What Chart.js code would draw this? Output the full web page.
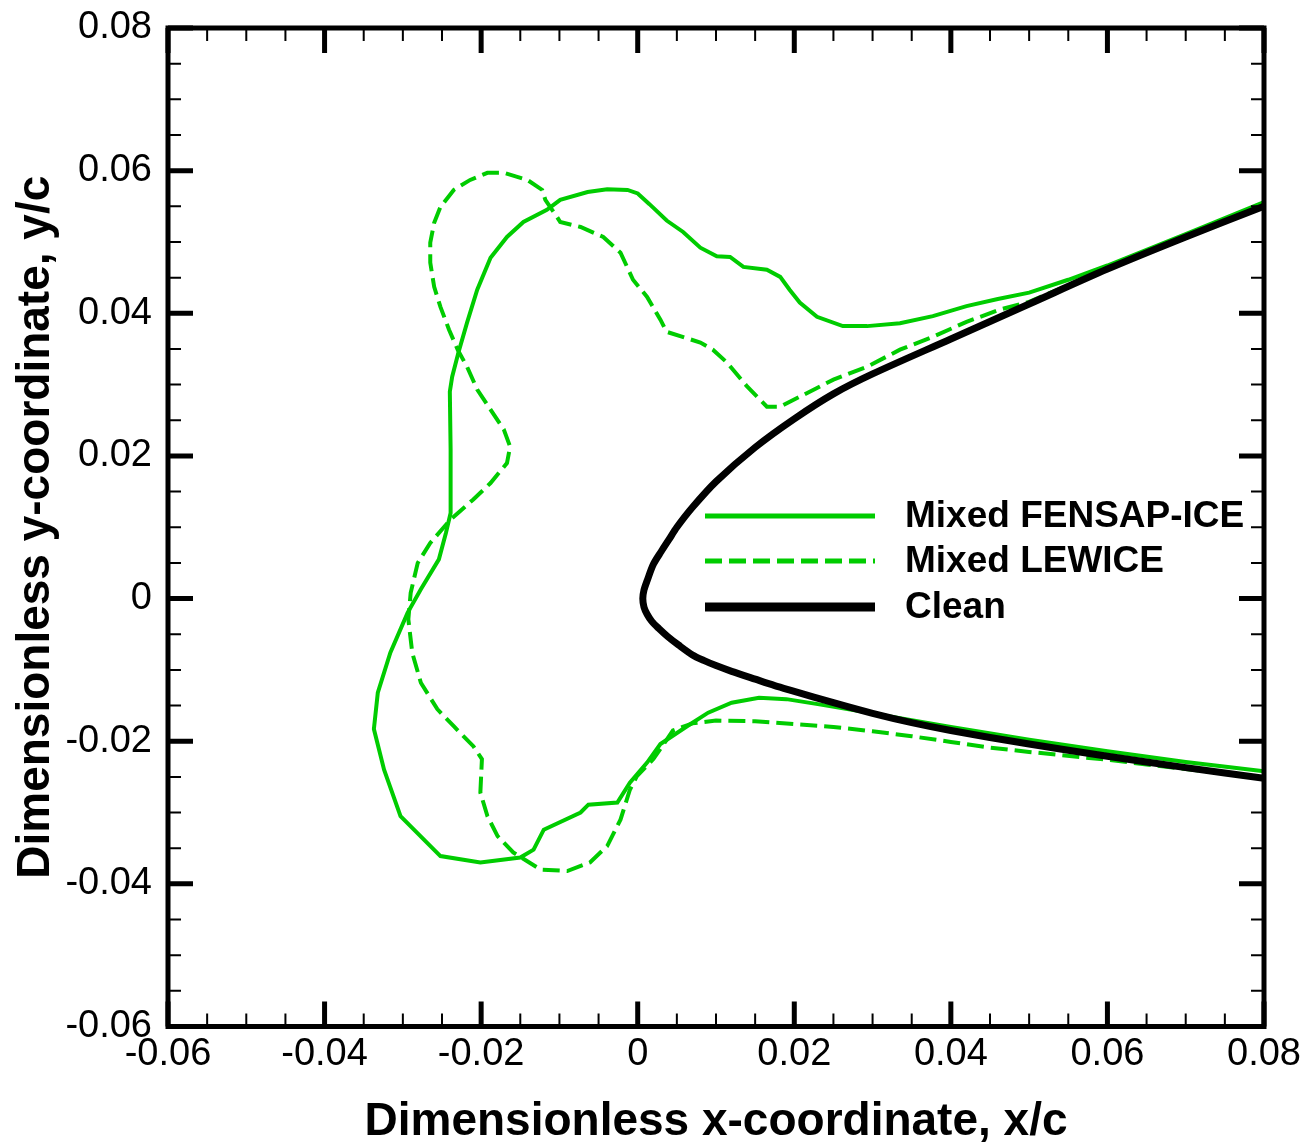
<!DOCTYPE html>
<html>
<head>
<meta charset="utf-8">
<script src="https://cdn.jsdelivr.net/npm/chart.js@4.4.1/dist/chart.umd.min.js"></script>
<style>
  html, body { margin: 0; padding: 0; background: #fff; }
  canvas { display: block; }
</style>
</head>
<body>
<canvas id="myChart" width="1308" height="1145"></canvas>
<script>
// ice shapes on the leading edge, x/c and y/c

var fensapX = [0.080, 0.070, 0.060, 0.055, 0.050, 0.046, 0.042, 0.0377, 0.0335, 0.0293,
  0.0262, 0.0229, 0.0207, 0.0194, 0.0182, 0.0165, 0.0135, 0.0118, 0.0101, 0.0080,
  0.0058, 0.0037, 0.0015, 0.0000, -0.0013, -0.0039, -0.0064, -0.0099, -0.0116, -0.0146,
  -0.0167, -0.0188, -0.0205, -0.0218, -0.0229, -0.0237, -0.0240, -0.0239, -0.0239, -0.0245,
  -0.0254, -0.0277, -0.0294, -0.0316, -0.0332, -0.0337, -0.0324, -0.0303, -0.0252, -0.0201,
  -0.0150, -0.0133, -0.0120, -0.0073, -0.0063, -0.0026, -0.0010, 0.0012, 0.0029, 0.0063,
  0.0090, 0.0120, 0.0155, 0.0190, 0.0230, 0.0300, 0.0400, 0.0500, 0.0600, 0.0700, 0.0800];
var fensapY = [0.0556, 0.0511, 0.0467, 0.0447, 0.0429, 0.0420, 0.0410, 0.0396, 0.0386, 0.0382,
  0.0382, 0.0395, 0.0415, 0.0433, 0.0451, 0.0461, 0.0465, 0.0479, 0.0480, 0.0492,
  0.0514, 0.0530, 0.0553, 0.0568, 0.0573, 0.0574, 0.0570, 0.0559, 0.0545, 0.0528,
  0.0507, 0.0478, 0.0433, 0.0387, 0.0345, 0.0311, 0.0290, 0.0209, 0.0120, 0.0092,
  0.0055, 0.0013, -0.0020, -0.0076, -0.0132, -0.0183, -0.0240, -0.0305, -0.0361, -0.0370,
  -0.0363, -0.0352, -0.0324, -0.0300, -0.0289, -0.0286, -0.0258, -0.0230, -0.0204, -0.0179,
  -0.0160, -0.0146, -0.0139, -0.0141, -0.0148, -0.0161, -0.0180, -0.0198, -0.0214, -0.0229, -0.0242];

var lewiceX = [0.080, 0.070, 0.060, 0.050, 0.0462, 0.042, 0.0377, 0.0335, 0.0293, 0.025,
  0.0207, 0.0182, 0.0165, 0.0140, 0.0114, 0.0096, 0.0080, 0.0037, 0.0029, 0.0012,
  -0.0006, -0.0022, -0.0044, -0.0073, -0.0099, -0.0103, -0.0118, -0.0122, -0.0141, -0.0171,
  -0.0192, -0.0214, -0.0235, -0.0252, -0.0260, -0.0265, -0.0265, -0.0260, -0.0252, -0.0241,
  -0.0230, -0.0218, -0.0205, -0.0188, -0.0171, -0.0163, -0.0167, -0.0188, -0.0210, -0.0239,
  -0.0265, -0.0281, -0.0290, -0.0293, -0.0288, -0.0277, -0.0256, -0.0235, -0.0210, -0.0199,
  -0.0201, -0.0192, -0.0179, -0.0159, -0.0124, -0.0090, -0.0061, -0.0039, -0.0022, -0.0010,
  -0.0001, 0.0020, 0.0045, 0.0070, 0.0100, 0.0150, 0.0200, 0.0250, 0.0300, 0.0350,
  0.0400, 0.0450, 0.0500, 0.0600, 0.0700, 0.0800];
var lewiceY = [0.0551, 0.0508, 0.0463, 0.0416, 0.0405, 0.0388, 0.0367, 0.0349, 0.0325, 0.0307,
  0.0283, 0.0269, 0.0269, 0.0297, 0.0331, 0.0349, 0.0359, 0.0374, 0.0391, 0.0423,
  0.0447, 0.0485, 0.0507, 0.0521, 0.0528, 0.0535, 0.0559, 0.0573, 0.0587, 0.0597,
  0.0597, 0.0587, 0.0573, 0.0549, 0.0527, 0.0499, 0.0471, 0.0437, 0.0409, 0.0377,
  0.0349, 0.0325, 0.0293, 0.0265, 0.0237, 0.0213, 0.0190, 0.0162, 0.0139, 0.0111,
  0.0078, 0.0050, 0.0008, -0.0029, -0.0076, -0.0118, -0.0155, -0.0179, -0.0207, -0.0225,
  -0.0272, -0.0305, -0.0333, -0.0356, -0.0380, -0.0382, -0.0370, -0.0347, -0.0310, -0.0268,
  -0.0249, -0.0225, -0.0185, -0.0175, -0.0171, -0.0172, -0.0176, -0.0180, -0.0186, -0.0193,
  -0.0201, -0.0209, -0.0215, -0.0226, -0.0239, -0.0251];

var cleanX = [0.080, 0.070, 0.060, 0.050, 0.040, 0.030, 0.025, 0.020, 0.015, 0.010,
  0.007, 0.005, 0.004, 0.003, 0.002, 0.0012, 0.0008, 0.00065, 0.0008, 0.0012,
  0.0018, 0.0027, 0.0038, 0.0052, 0.0070, 0.0085, 0.0100, 0.0120, 0.0150, 0.0175,
  0.0200, 0.0250, 0.0300, 0.0350, 0.0400, 0.0500, 0.0600, 0.0700, 0.0800];
var cleanY = [0.0550, 0.0507, 0.0462, 0.0413, 0.0364, 0.0315, 0.0287, 0.0252, 0.0212, 0.0164,
  0.0128, 0.0100, 0.0083, 0.0066, 0.0048, 0.0025, 0.0012, 0.0000, -0.0012, -0.0022,
  -0.0032, -0.0042, -0.0053, -0.0065, -0.0079, -0.0087, -0.0094, -0.0102, -0.0113, -0.0122,
  -0.0130, -0.0146, -0.0161, -0.0174, -0.0185, -0.0204, -0.0221, -0.0237, -0.0252];

var xTicks = [-0.06, -0.04, -0.02, 0, 0.02, 0.04, 0.06, 0.08];
var yTicks = [-0.06, -0.04, -0.02, 0, 0.02, 0.04, 0.06, 0.08];

var green = '#00cc00';
var family = "'Liberation Sans', Arial, Helvetica, sans-serif";

function pairs(xs, ys) {
  return xs.map(function (x, i) { return {x: x, y: ys[i]}; });
}
function fmt(v) {
  return Math.abs(v) < 1e-9 ? '0' : v.toFixed(2);
}

// frame, inward ticks on all four sides, and the legend inside the plot
var framePlugin = {
  id: 'frame',
  afterDatasetsDraw: function (chart) {
    var ctx = chart.ctx, a = chart.chartArea;
    var sx = chart.scales.x, sy = chart.scales.y;
    ctx.save();
    ctx.strokeStyle = '#000';
    ctx.lineCap = 'butt';

    ctx.lineWidth = 2;
    ctx.beginPath();
    for (var i = -12; i <= 16; i++) {
      if (i % 4 === 0) continue;
      var v = i * 0.005;
      var px = sx.getPixelForValue(v), py = sy.getPixelForValue(v);
      ctx.moveTo(px, a.bottom); ctx.lineTo(px, a.bottom - 13);
      ctx.moveTo(px, a.top); ctx.lineTo(px, a.top + 13);
      ctx.moveTo(a.left, py); ctx.lineTo(a.left + 13, py);
      ctx.moveTo(a.right, py); ctx.lineTo(a.right - 13, py);
    }
    ctx.stroke();

    ctx.lineWidth = 5;
    ctx.beginPath();
    xTicks.forEach(function (v) {
      var px = sx.getPixelForValue(v);
      ctx.moveTo(px, a.bottom); ctx.lineTo(px, a.bottom - 25);
      ctx.moveTo(px, a.top); ctx.lineTo(px, a.top + 25);
    });
    yTicks.forEach(function (v) {
      var py = sy.getPixelForValue(v);
      ctx.moveTo(a.left, py); ctx.lineTo(a.left + 25, py);
      ctx.moveTo(a.right, py); ctx.lineTo(a.right - 25, py);
    });
    ctx.stroke();

    ctx.lineWidth = 5;
    ctx.strokeRect(a.left, a.top, a.right - a.left, a.bottom - a.top);

    // legend
    var rows = [516, 561, 607];
    ctx.font = 'bold 37px ' + family;
    ctx.textBaseline = 'middle';
    ctx.textAlign = 'left';
    chart.data.datasets.forEach(function (ds, k) {
      var y = rows[k];
      ctx.strokeStyle = ds.borderColor;
      ctx.lineWidth = ds.legendWidth;
      ctx.setLineDash(ds.borderDash || []);
      ctx.beginPath();
      ctx.moveTo(705, y); ctx.lineTo(875, y);
      ctx.stroke();
      ctx.setLineDash([]);
      ctx.fillStyle = '#000';
      ctx.fillText(ds.label, 905, y + 1);
    });
    ctx.restore();
  }
};

var ctx = document.getElementById('myChart');
var myChart = new Chart(ctx, {
  type: 'scatter',
  data: {
    datasets: [
      {
        label: 'Mixed FENSAP-ICE',
        data: pairs(fensapX, fensapY),
        showLine: true,
        borderColor: green,
        borderWidth: 4,
        legendWidth: 5,
        pointRadius: 0,
        order: 2
      },
      {
        label: 'Mixed LEWICE',
        data: pairs(lewiceX, lewiceY),
        showLine: true,
        borderColor: green,
        borderWidth: 4,
        legendWidth: 5,
        borderDash: [17, 7],
        pointRadius: 0,
        order: 1
      },
      {
        label: 'Clean',
        data: pairs(cleanX, cleanY),
        showLine: true,
        borderColor: '#000000',
        borderWidth: 7,
        legendWidth: 9,
        pointRadius: 0,
        tension: 0.3,
        order: 0
      }
    ]
  },
  options: {
    responsive: false,
    devicePixelRatio: 1,
    animation: false,
    layout: { padding: { top: 28, right: 44, left: 0, bottom: 0 } },
    plugins: {
      legend: { display: false },
      tooltip: { enabled: false }
    },
    scales: {
      x: {
        type: 'linear',
        position: 'bottom',
        min: -0.06,
        max: 0.08,
        afterBuildTicks: function (s) { s.ticks = xTicks.map(function (v) { return {value: v}; }); },
        afterFit: function (s) { s.height = 118.5; s.paddingLeft = 0; s.paddingRight = 0; },
        grid: { display: false, drawTicks: false },
        border: { display: false },
        ticks: {
          color: '#000',
          font: { family: family, size: 38 },
          padding: 5,
          maxRotation: 0,
          autoSkip: false,
          callback: fmt
        },
        title: {
          display: true,
          text: 'Dimensionless x-coordinate, x/c',
          color: '#000',
          font: { family: family, size: 46, weight: 'bold', lineHeight: 1 },
          padding: 0
        }
      },
      y: {
        type: 'linear',
        position: 'left',
        min: -0.06,
        max: 0.08,
        afterBuildTicks: function (s) { s.ticks = yTicks.map(function (v) { return {value: v}; }); },
        afterFit: function (s) { s.width = 168; s.paddingTop = 0; s.paddingBottom = 0; },
        grid: { display: false, drawTicks: false },
        border: { display: false },
        ticks: {
          color: '#000',
          font: { family: family, size: 38 },
          padding: 16,
          autoSkip: false,
          callback: fmt
        },
        title: {
          display: true,
          text: 'Dimensionless y-coordinate, y/c',
          color: '#000',
          font: { family: family, size: 46, weight: 'bold', lineHeight: 1 },
          padding: { top: 13, bottom: 0 }
        }
      }
    }
  },
  plugins: [framePlugin]
});
</script>
</body>
</html>
